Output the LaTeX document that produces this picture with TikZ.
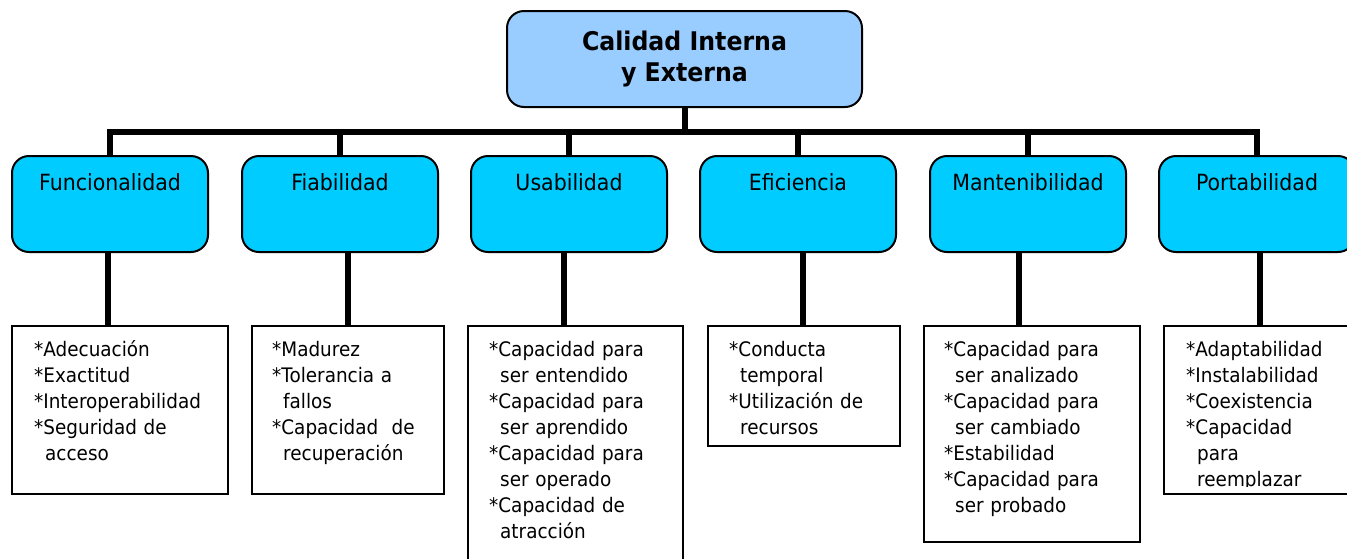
\documentclass[tikz,border=0pt]{standalone}
\usepackage{fontspec}
\setmainfont{DejaVu Sans}[FakeStretch=0.92]
\usepackage{xcolor}
\definecolor{calidadceleste}{RGB}{153,204,255}
\definecolor{calidadcian}{RGB}{0,204,255}
\usetikzlibrary{positioning,calc}
\newcommand{\marca}{*}
\newcommand{\sigue}{\hspace*{11pt}}

\begin{document}
\begin{tikzpicture}[x=1pt, y=-1pt,
    categoria/.style={fill=calidadcian, draw=black, line width=2pt,
      rounded corners=17pt, minimum width=196pt, inner ysep=0pt,
      text height=34.5pt, text depth=61.5pt,
      font=\fontsize{22.3}{26}\selectfont},
    lista/.style={draw=black, line width=2pt, inner sep=0pt},
    texto/.style={anchor=base west, inner sep=0pt, text width=180pt,
      align=left, font=\fontsize{20}{26}\selectfont},
    rama/.style={line width=6pt}]
      \useasboundingbox (0,0) rectangle (1347,558);
      \clip (0,0) rectangle (1347,558);
      % Caja principal : fondo celeste, esquinas redondeadas
      \node[fill=calidadceleste, draw=black, line width=2pt,
            rounded corners=17pt, minimum width=355pt, minimum height=96pt,
            align=center, font=\fontsize{25.7}{31}\selectfont\bfseries]
        (titulo) at (684.5,59) {Calidad Interna\\y Externa};
      \coordinate[below=24pt of titulo] (barra);
      % Caracteristicas : cajas cian en una fila
      \node[categoria] (cfun) at (110,204) {Funcionalidad};
      \node[categoria] (cfia) at (340,204) {Fiabilidad};
      \node[categoria] (cusa) at (569,204) {Usabilidad};
      \node[categoria] (cefi) at (798,204) {Eficiencia};
      \node[categoria] (cman) at (1028,204) {Mantenibilidad};
      \node[categoria] (cpor) at (1257,204) {Portabilidad};
      % Barra horizontal que reparte la caja principal
      \draw[rama] (cfun.north) |- (barra) -| (cpor.north);
      \draw[rama] (titulo.south) -- (barra);
      \draw[rama] (cfia.north) -- (cfia.north |- barra);
      \draw[rama] (cusa.north) -- (cusa.north |- barra);
      \draw[rama] (cefi.north) -- (cefi.north |- barra);
      \draw[rama] (cman.north) -- (cman.north |- barra);
      % Subcaracteristicas : recuadros blancos bajo cada caja
      \node[lista, below=72pt of cfun, xshift=10pt,
            minimum width=216pt, minimum height=168pt] (lfun) {};
      \node[lista, below=72pt of cfia, xshift=8pt,
            minimum width=192pt, minimum height=168pt] (lfia) {};
      \node[lista, below=72pt of cusa, xshift=6.5pt,
            minimum width=215pt, minimum height=250pt] (lusa) {};
      \node[lista, below=72pt of cefi, xshift=6pt,
            minimum width=192pt, minimum height=120pt] (lefi) {};
      \node[lista, below=72pt of cman, xshift=4pt,
            minimum width=216pt, minimum height=216pt] (lman) {};
      \node[lista, below=72pt of cpor, xshift=3pt,
            minimum width=192pt, minimum height=168pt] (lpor) {};
      \draw[rama] ([xshift=-2pt]cfun.south) -- ([xshift=-2pt]cfun.south |- lfun.north);
      \draw[rama] ([xshift=8pt]cfia.south) -- ([xshift=8pt]cfia.south |- lfia.north);
      \draw[rama] ([xshift=-5pt]cusa.south) -- ([xshift=-5pt]cusa.south |- lusa.north);
      \draw[rama] ([xshift=5pt]cefi.south) -- ([xshift=5pt]cefi.south |- lefi.north);
      \draw[rama] ([xshift=-9pt]cman.south) -- ([xshift=-9pt]cman.south |- lman.north);
      \draw[rama] ([xshift=3pt]cpor.south) -- ([xshift=3pt]cpor.south |- lpor.north);
      \node[texto] (tfun) at ([xshift=23pt,yshift=-31pt]lfun.north west)
        {\marca Adecuación\\\marca Exactitud\\\marca Interoperabilidad\\
         \marca Seguridad de\\\sigue acceso};
      \node[texto] (tfia) at ([xshift=21pt,yshift=-31pt]lfia.north west)
        {\marca Madurez\\\marca Tolerancia a\\\sigue fallos\\
         \marca Capacidad\ \ de\\\sigue recuperación};
      \node[texto] (tusa) at ([xshift=22pt,yshift=-31pt]lusa.north west)
        {\marca Capacidad para\\\sigue ser entendido\\
         \marca Capacidad para\\\sigue ser aprendido\\
         \marca Capacidad para\\\sigue ser operado\\
         \marca Capacidad de\\\sigue atracción};
      \node[texto] (tefi) at ([xshift=22pt,yshift=-31pt]lefi.north west)
        {\marca Conducta\\\sigue temporal\\
         \marca Utilización de\\\sigue recursos};
      \node[texto] (tman) at ([xshift=21pt,yshift=-31pt]lman.north west)
        {\marca Capacidad para\\\sigue ser analizado\\
         \marca Capacidad para\\\sigue ser cambiado\\
         \marca Estabilidad\\
         \marca Capacidad para\\\sigue ser probado};
      % El texto de Portabilidad queda cortado antes del borde inferior
      \begin{scope}
        \clip (lpor.north west) rectangle ([yshift=9pt]lpor.south east);
        \node[texto] (tpor) at ([xshift=23pt,yshift=-31pt]lpor.north west)
          {\marca Adaptabilidad\\\marca Instalabilidad\\\marca Coexistencia\\
           \marca Capacidad\\\sigue para\\\sigue reemplazar};
      \end{scope}
    \end{tikzpicture}
\end{document}
